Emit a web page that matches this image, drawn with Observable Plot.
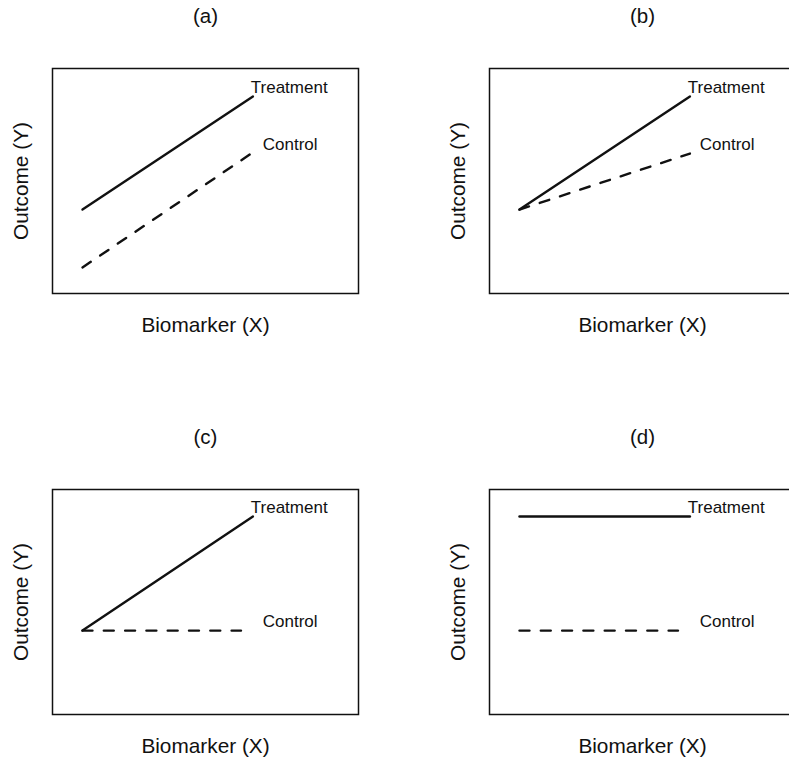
<!DOCTYPE html>
<html>
<head>
<meta charset="utf-8">
<script src="https://cdn.jsdelivr.net/npm/d3@7"></script>
<script src="https://cdn.jsdelivr.net/npm/@observablehq/plot@0.6"></script>
<style>
  html, body { margin: 0; padding: 0; background: #fff; overflow: hidden; }
  #chart { width: 789px; height: 759px; overflow: hidden; }
  #chart svg { max-width: none !important; }
</style>
</head>
<body>
<div id="chart"></div>
<script>
const panels = ["(a)", "(b)", "(c)", "(d)"];
const panelCol = [0, 1, 0, 1];
const panelRow = [0, 0, 1, 1];

const treatmentX0 = [9.8, 9.8, 9.8, 9.8];
const treatmentX1 = [65.5, 65.5, 65.5, 65.5];
const treatmentY0 = [37.3, 37.3, 37.3, 88];
const treatmentY1 = [87.6, 87.6, 88, 88];

const controlX0 = [9.8, 9.8, 9.8, 9.8];
const controlX1 = [64.5, 65.5, 61.6, 61.6];
const controlY0 = [11.6, 37.3, 37.3, 37.3];
const controlY1 = [61.8, 62.2, 37.3, 37.3];

const treatmentLabelX = [64.8, 64.8, 64.8, 64.8];
const treatmentLabelY = [91.6, 91.6, 92, 92];
const controlLabelX = [68.7, 68.7, 68.7, 68.7];
const controlLabelY = [66.2, 66.2, 41.3, 41.3];

const seriesNames = ["Treatment", "Control"];
const xLabel = "Biomarker (X)";
const yLabel = "Outcome (Y)";

const treatmentData = [];
const controlData = [];
const labelData = [];
const panelData = [];
panels.forEach((p, i) => {
  const base = {panel: p, col: panelCol[i], row: panelRow[i]};
  treatmentData.push({...base, x: treatmentX0[i], y: treatmentY0[i]});
  treatmentData.push({...base, x: treatmentX1[i], y: treatmentY1[i]});
  controlData.push({...base, x: controlX0[i], y: controlY0[i]});
  controlData.push({...base, x: controlX1[i], y: controlY1[i]});
  labelData.push({...base, x: treatmentLabelX[i], y: treatmentLabelY[i], text: seriesNames[0]});
  labelData.push({...base, x: controlLabelX[i], y: controlLabelY[i], text: seriesNames[1]});
  panelData.push(base);
});

const font = "'Liberation Sans', Arial, Helvetica, sans-serif";

const chart = Plot.plot({
  width: 800,
  height: 759,
  marginLeft: 51,
  marginRight: 4,
  marginTop: 68,
  marginBottom: 45,
  style: {fontFamily: font, background: "#fff", color: "#111", maxWidth: "none"},
  fx: {domain: [0, 1], paddingInner: 0.299, paddingOuter: 0, axis: null},
  fy: {domain: [0, 1], paddingInner: 0.4656, paddingOuter: 0, axis: null},
  x: {domain: [0, 100], axis: null},
  y: {domain: [0, 100], axis: null},
  marks: [
    Plot.frame({stroke: "#111", strokeWidth: 1.5}),
    Plot.line(treatmentData, {x: "x", y: "y", fx: "col", fy: "row", z: "panel", stroke: "#111", strokeWidth: 2.4}),
    Plot.line(controlData, {x: "x", y: "y", fx: "col", fy: "row", z: "panel", stroke: "#111", strokeWidth: 2.4, strokeDasharray: "10,11.3"}),
    Plot.text(labelData, {x: "x", y: "y", fx: "col", fy: "row", text: "text", textAnchor: "start", lineAnchor: "middle", fontSize: 17, fill: "#111"}),
    Plot.text(panelData, {fx: "col", fy: "row", text: "panel", frameAnchor: "top", textAnchor: "middle", lineAnchor: "middle", dy: -52, fontSize: 20.5, fill: "#111"}),
    Plot.text(panelData, {fx: "col", fy: "row", text: () => xLabel, frameAnchor: "bottom", textAnchor: "middle", lineAnchor: "middle", dy: 32, fontSize: 20.8, fill: "#111"}),
    Plot.text(panelData, {fx: "col", fy: "row", text: () => yLabel, frameAnchor: "left", textAnchor: "middle", lineAnchor: "middle", dx: -31, rotate: -90, fontSize: 20.8, fill: "#111"})
  ]
});
document.getElementById("chart").appendChild(chart);
</script>
</body>
</html>
